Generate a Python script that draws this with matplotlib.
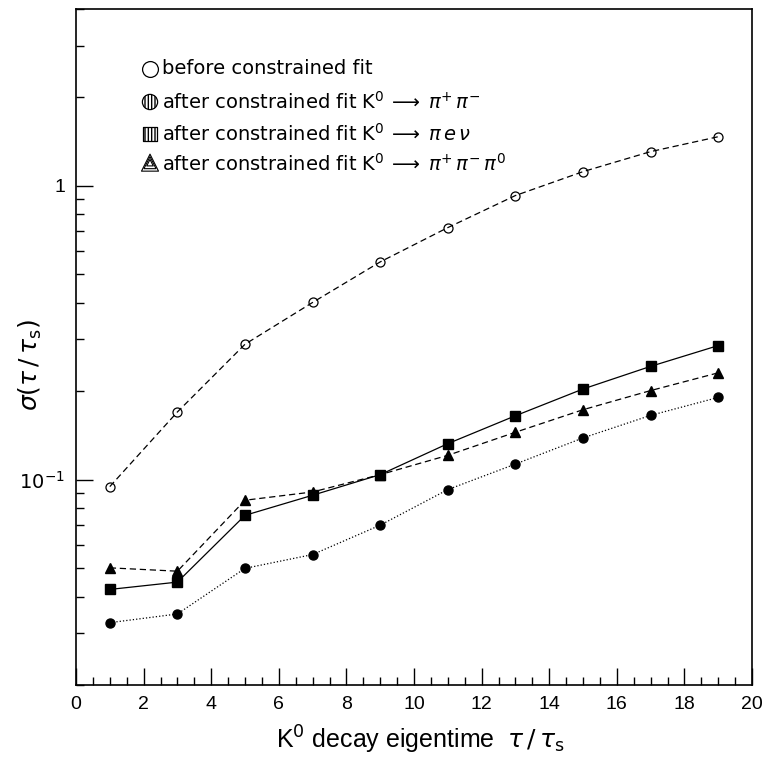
import numpy as np
import matplotlib

matplotlib.use("Agg")
import matplotlib.pyplot as plt
from matplotlib.ticker import FixedLocator, LogLocator, NullFormatter, MultipleLocator

# eigentime bins (tau / tau_s)
tau = [1, 3, 5, 7, 9, 11, 13, 15, 17, 19]

# sigma(tau/tau_s)
before_fit = [0.0947, 0.170, 0.289, 0.401, 0.551, 0.721, 0.927, 1.118, 1.308, 1.47]
fit_pipi = [0.0326, 0.0349, 0.0499, 0.0556, 0.0700, 0.0925, 0.113, 0.1387, 0.1655, 0.1905]
fit_pienu = [0.0423, 0.0448, 0.0756, 0.0885, 0.104, 0.1326, 0.165, 0.2035, 0.243, 0.286]
fit_pipipi0 = [0.0501, 0.0488, 0.0851, 0.0908, 0.104, 0.121, 0.145, 0.173, 0.201, 0.231]

legend_labels = [
    "before constrained fit",
    r"after constrained fit K$^0$$\,\longrightarrow\;$$\pi^{+}\,\pi^{-}$",
    r"after constrained fit K$^0$$\,\longrightarrow\;$$\pi\, e\, \nu$",
    r"after constrained fit K$^0$$\,\longrightarrow\;$$\pi^{+}\,\pi^{-}\,\pi^{0}$",
]

W, H = 765, 763
fig = plt.figure(figsize=(W / 100, H / 100), dpi=100)
fig.patch.set_facecolor("white")
ax = fig.add_axes([76 / W, (H - 685) / H, 676 / W, 676 / H])
ax.set_yscale("log")
ax.set_xlim(0, 20)
ax.set_ylim(0.02, 4)

ax.plot(tau, before_fit, "--", color="black", lw=0.9, dashes=(5, 3),
        marker="o", ms=6.5, mfc="none", mec="black", mew=0.9)
ax.plot(tau, fit_pienu, "-", color="black", lw=0.9,
        marker="s", ms=6.5, mfc="black", mec="black")
ax.plot(tau, fit_pipipi0, "--", color="black", lw=0.9, dashes=(5, 3),
        marker="^", ms=6.5, mfc="black", mec="black")
ax.plot(tau, fit_pipi, ":", color="black", lw=0.9,
        marker="o", ms=6.5, mfc="black", mec="black")

# ticks: inward, bottom/left only
ax.xaxis.set_major_locator(MultipleLocator(2))
ax.xaxis.set_minor_locator(MultipleLocator(0.5))
ax.yaxis.set_major_locator(FixedLocator([0.1, 1]))
ax.yaxis.set_minor_locator(LogLocator(base=10, subs=np.arange(2, 10)))
ax.yaxis.set_minor_formatter(NullFormatter())
ax.set_yticklabels([r"$10^{-1}$", "1"])
ax.tick_params(which="both", direction="in", top=False, right=False,
               labelsize=14, pad=8, color="black")
ax.tick_params(which="major", length=12, width=1)
ax.tick_params(which="minor", length=6, width=1)
for lbl in ax.get_xticklabels() + ax.get_yticklabels():
    lbl.set_family("Liberation Sans")
for s in ax.spines.values():
    s.set_linewidth(1.2)

ax.set_xlabel(r"K$^0$ decay eigentime  $\tau\,/\,\tau_{\rm s}$",
              fontsize=18, family="Liberation Sans", va="center")
ax.xaxis.set_label_coords((420 - 76) / 676, (685 - 740) / 676)
ax.set_ylabel(r"$\sigma(\tau\,/\,\tau_{\rm s})$", fontsize=18,
              family="Liberation Sans", va="center")
ax.yaxis.set_label_coords((30 - 76) / 676, (685 - 365) / 676)

# hand-drawn legend
mx = (150 - 76) / 676
tx = (162 - 76) / 676
rows = [(685 - y) / 676 for y in (69, 102, 134, 164)]
tr = ax.transAxes
ax.scatter([mx], [rows[0]], s=130, marker="o", facecolor="white",
           edgecolor="black", lw=0.9, transform=tr, clip_on=False, zorder=5)
ax.scatter([mx], [rows[1]], s=120, marker="o", facecolor="white",
           edgecolor="black", lw=0.9, hatch="|||||", transform=tr,
           clip_on=False, zorder=5)
ax.scatter([mx], [rows[2]], s=110, marker="s", facecolor="white",
           edgecolor="black", lw=0.9, hatch="|||||", transform=tr,
           clip_on=False, zorder=5)
for sz in (150, 75, 22):
    ax.scatter([mx], [rows[3] + 0.002], s=sz, marker="^", facecolor="none",
               edgecolor="black", lw=0.8, transform=tr, clip_on=False, zorder=5)
for y, lab in zip(rows, legend_labels):
    ax.text(tx, y, lab, transform=tr, fontsize=14, va="center", ha="left",
            family="DejaVu Sans")

fig.savefig("out.png", dpi=100, facecolor="white")
